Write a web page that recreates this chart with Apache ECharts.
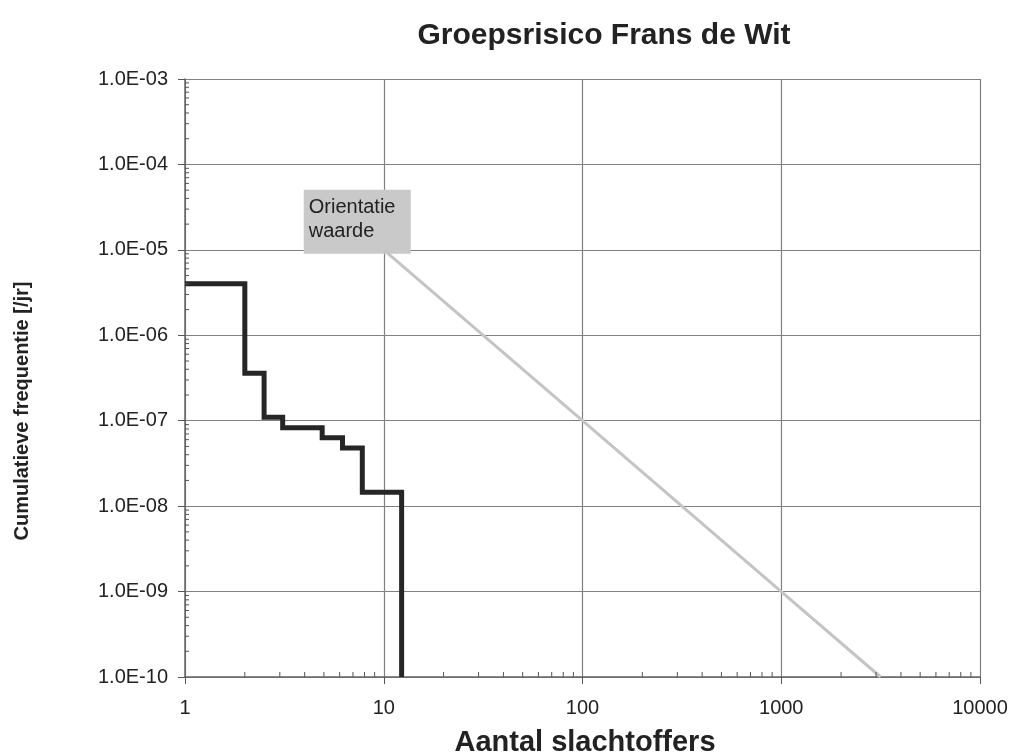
<!DOCTYPE html>
<html>
<head>
<meta charset="utf-8">
<script src="https://cdn.jsdelivr.net/npm/echarts@6/dist/echarts.min.js"></script>
<style>
html,body{margin:0;padding:0;background:#fff;}
#chart{width:1010px;height:755px;}
</style>
</head>
<body>
<div id="chart"></div>
<script>
// ---- data ----
var titleText = 'Groepsrisico Frans de Wit';
var xAxisName = 'Aantal slachtoffers';
var yAxisName = 'Cumulatieve frequentie [/jr]';
var xTickLabels = ['1', '10', '100', '1000', '10000'];
var yTickLabels = ['1.0E-10','1.0E-09','1.0E-08','1.0E-07','1.0E-06','1.0E-05','1.0E-04','1.0E-03'];
// FN curve: step edges (N) and cumulative frequencies
var fnN    = [1, 2, 2.5, 3.1, 4.9, 6.2, 7.8, 12.3];
var fnFreq = [4.0e-6, 3.6e-7, 1.1e-7, 8.3e-8, 6.3e-8, 4.8e-8, 1.45e-8];
var fnBottom = 1e-10;
// Orientation value line
var orN    = [10, 100, 1000, 3162];
var orFreq = [1e-5, 1e-7, 1e-9, 1e-10];
var orLabel = 'Orientatie\nwaarde';
// minor tick multipliers
var minorMult = [2, 3, 4, 5, 6, 7, 8, 9];
var xDecades = [1, 10, 100, 1000];
var yDecades = [1e-10, 1e-9, 1e-8, 1e-7, 1e-6, 1e-5, 1e-4];

// ---- build ----
var fnData = [];
for (var i = 0; i < fnFreq.length; i++) {
  fnData.push([fnN[i], fnFreq[i]]);
  fnData.push([fnN[i + 1], fnFreq[i]]);
}
fnData.push([fnN[fnN.length - 1], fnBottom]);
var orData = orN.map(function (n, i) { return [n, orFreq[i]]; });
var xMinor = [], yMinor = [];
xDecades.forEach(function (d) { minorMult.forEach(function (m) { xMinor.push([d * m]); }); });
yDecades.forEach(function (d) { minorMult.forEach(function (m) { yMinor.push([d * m]); }); });

var font = '"Liberation Sans", Arial, sans-serif';
var chart = echarts.init(document.getElementById('chart'), null, {renderer: 'canvas'});
var option = {
  backgroundColor: '#fff',
  animation: false,
  title: {
    text: titleText, left: 599, top: 16, textAlign: 'center',
    textStyle: {fontFamily: font, fontSize: 30, fontWeight: 'bold', color: '#222'}
  },
  grid: {left: 185, right: 30, top: 79, bottom: 78, containLabel: false, outerBoundsMode: 'none'},
  xAxis: {
    type: 'log', logBase: 10, min: 1, max: 10000, splitNumber: 4,
    axisLine: {show: true, lineStyle: {color: '#666', width: 1.5}},
    axisTick: {show: true, inside: false, length: 7, lineStyle: {color: '#555'}},
    axisLabel: {
      fontFamily: font, fontSize: 20, color: '#222', margin: 21,
      formatter: function (v) { var e = Math.round(Math.log10(v)); return xTickLabels[e] || ''; }
    },
    splitLine: {show: true, lineStyle: {color: '#808080', width: 1.2}}
  },
  yAxis: {
    type: 'log', logBase: 10, min: 1e-10, max: 1e-3, splitNumber: 7,
    axisLine: {show: true, lineStyle: {color: '#666', width: 1.5}},
    axisTick: {show: true, inside: false, length: 7, lineStyle: {color: '#555'}},
    axisLabel: {
      fontFamily: font, fontSize: 20, color: '#222', margin: 17,
      formatter: function (v) { var e = Math.round(Math.log10(v)); return yTickLabels[e + 10] || ''; }
    },
    splitLine: {show: true, lineStyle: {color: '#808080', width: 1.2}}
  },
  series: [
    {
      type: 'line', data: orData, showSymbol: false, symbol: 'none',
      lineStyle: {color: '#c4c4c4', width: 3}, z: 3
    },
    {
      type: 'line', data: fnData, showSymbol: false, symbol: 'none',
      lineStyle: {color: '#262626', width: 5, join: 'miter', cap: 'butt'}, z: 4
    },
    {
      type: 'custom', data: xMinor, clip: false, silent: true, z: 5,
      renderItem: function (params, api) {
        var p = api.coord([api.value(0), 1e-10]);
        return {type: 'line', shape: {x1: p[0], y1: p[1], x2: p[0], y2: p[1] - 5},
                style: {stroke: '#555', lineWidth: 1}};
      }
    },
    {
      type: 'custom', data: yMinor, clip: false, silent: true, z: 5,
      renderItem: function (params, api) {
        var p = api.coord([1, api.value(0)]);
        return {type: 'line', shape: {x1: p[0], y1: p[1], x2: p[0] + 4, y2: p[1]},
                style: {stroke: '#555', lineWidth: 1}};
      }
    }
  ]
};
chart.setOption(option);
var anchor = chart.convertToPixel({gridIndex: 0}, orData[0]);
chart.setOption({
  graphic: [{
    type: 'group', left: anchor[0] - 80, top: anchor[1] - 60, z: 10,
    children: [
      {type: 'rect', shape: {x: 0, y: 0, width: 107, height: 64}, style: {fill: '#c9c9c9'}},
      {type: 'text', left: 5, top: 6, style: {text: orLabel, fontFamily: font, fontSize: 20, lineHeight: 24, fill: '#222'}}
    ]
  }, {
    type: 'text', x: 22, y: 411, rotation: Math.PI / 2,
    style: {text: yAxisName, fontFamily: font, fontSize: 20, fontWeight: 'bold', fill: '#222',
            align: 'center', verticalAlign: 'middle'}
  }, {
    type: 'text', x: 585, y: 743,
    style: {text: xAxisName, fontFamily: font, fontSize: 29, fontWeight: 'bold', fill: '#222',
            align: 'center', verticalAlign: 'middle'}
  }]
});
</script>
</body>
</html>
